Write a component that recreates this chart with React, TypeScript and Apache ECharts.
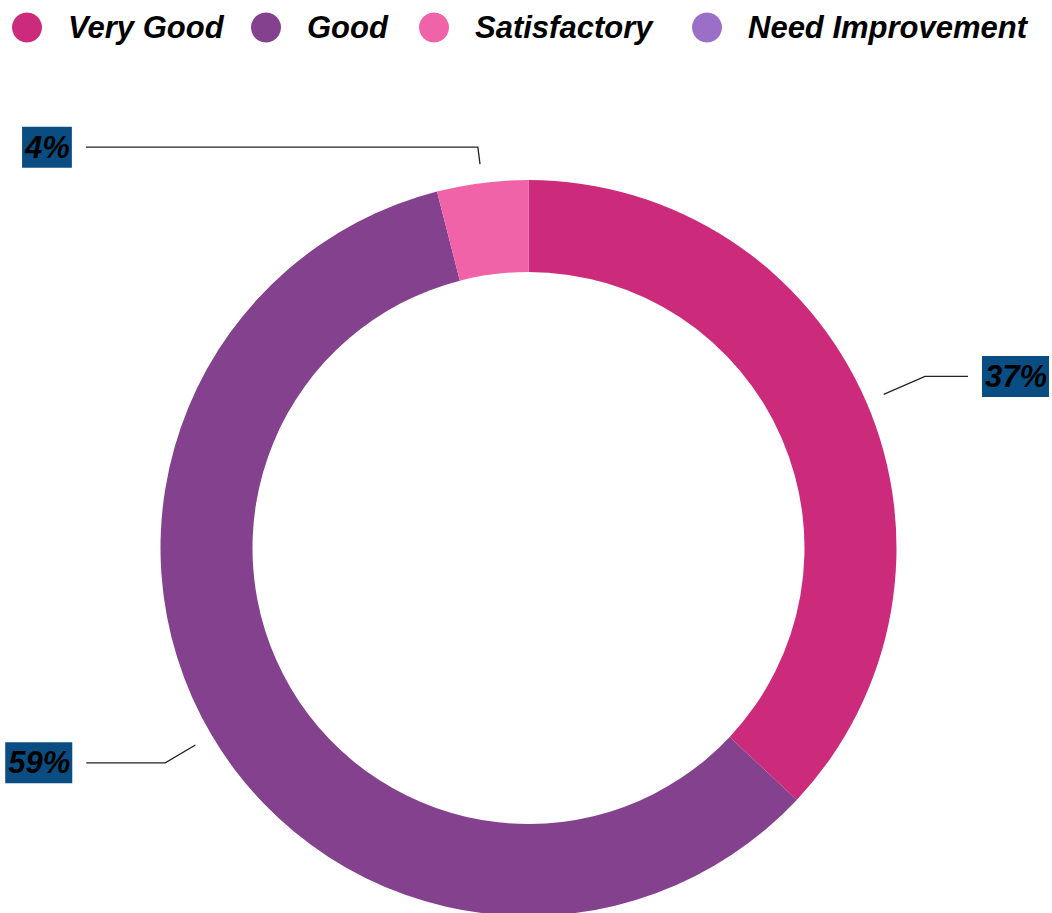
import React, { useEffect, useRef } from "react";
import * as echarts from "echarts";

const categories = ["Very Good", "Good", "Satisfactory", "Need Improvement"];
const values = [37, 59, 4, 0];
const colors = ["#cc2a7b", "#84418d", "#f063a8", "#9b6fc8"];

// layout / style config (not data)
const legendLeft = [12, 251, 419, 692];
const lineLen: Record<string, [number, number]> = {
  "Very Good": [45, 43],
  Good: [35, 79],
  Satisfactory: [17, 392],
};

const FONT = '"Liberation Sans", Arial, Helvetica, sans-serif';

export default function App() {
  const ref = useRef<HTMLDivElement>(null);
  useEffect(() => {
    if (!ref.current) return;
    const chart = echarts.init(ref.current, null, { renderer: "svg" });
    const donutData = categories.map((name, i) => ({
      name,
      value: values[i],
      itemStyle: { color: colors[i] },
    }));
    const labelData = categories.map((name, i) => {
      const ll = lineLen[name];
      return {
        name,
        value: values[i],
        itemStyle: { color: "rgba(0,0,0,0)" },
        ...(values[i] === 0 || !ll
          ? { label: { show: false }, labelLine: { show: false } }
          : { labelLine: { length: ll[0], length2: ll[1] } }),
      };
    });
    const legendText = {
      fontFamily: FONT,
      fontSize: 31,
      fontWeight: "bold",
      fontStyle: "italic",
      color: "#000",
      padding: [0, 0, 0, 21],
    };
    chart.setOption({
      animation: false,
      legend: categories.map((name, i) => ({
        data: [name],
        left: legendLeft[i],
        top: 12,
        padding: 0,
        itemWidth: 30,
        itemHeight: 30,
        icon: "circle",
        selectedMode: false,
        textStyle: legendText,
      })),
      series: [
        {
          type: "pie",
          name: "donut",
          center: [528.5, 548],
          radius: [276, 368],
          silent: true,
          label: { show: false },
          labelLine: { show: false },
          data: donutData,
        },
        {
          type: "pie",
          name: "labels",
          center: [528.5, 548],
          radius: [386, 387],
          silent: true,
          data: labelData,
          avoidLabelOverlap: false,
          label: {
            show: true,
            position: "outside",
            formatter: "{d}%",
            alignTo: "none",
            bleedMargin: 0,
            distanceToLabelLine: 14,
            fontFamily: FONT,
            fontSize: 31,
            fontWeight: "bold",
            fontStyle: "italic",
            color: "#000",
            backgroundColor: "#0a4d82",
            padding: [3, 2, 3, 3],
            lineHeight: 35,
          },
          labelLine: {
            show: true,
            length: 18,
            length2: 80,
            lineStyle: { color: "#222", width: 1.3 },
          },
        },
      ],
    });
    return () => chart.dispose();
  }, []);
  return (
    <div
      ref={ref}
      style={{ position: "absolute", left: 0, top: 0, width: 1052, height: 913 }}
    />
  );
}
